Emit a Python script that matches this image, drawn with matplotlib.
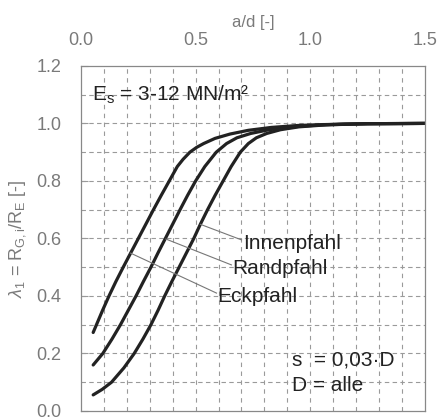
import matplotlib
matplotlib.use('Agg')
import matplotlib.pyplot as plt

# curves: a/d -> lambda_1
ECK_X = [0.053, 0.094, 0.122, 0.152, 0.184, 0.217, 0.25, 0.283, 0.316, 0.35, 0.385,
         0.42, 0.445, 0.475, 0.505, 0.535, 0.585, 0.65, 0.73, 0.83, 0.95, 1.15, 1.5]
ECK_Y = [0.273, 0.35, 0.40, 0.45, 0.50, 0.55, 0.60, 0.65, 0.70, 0.75, 0.80,
         0.85, 0.875, 0.90, 0.917, 0.93, 0.948, 0.963, 0.976, 0.986, 0.993, 0.998, 1.0]

RAND_X = [0.053, 0.095, 0.135, 0.172, 0.206, 0.24, 0.272, 0.305, 0.336, 0.368, 0.40,
          0.432, 0.465, 0.50, 0.54, 0.59, 0.635, 0.68, 0.74, 0.82, 0.92, 1.05, 1.25, 1.5]
RAND_Y = [0.16, 0.20, 0.25, 0.30, 0.35, 0.40, 0.45, 0.50, 0.55, 0.60, 0.65,
          0.70, 0.75, 0.80, 0.85, 0.90, 0.93, 0.95, 0.965, 0.978, 0.988, 0.995, 0.999, 1.0]

INNEN_X = [0.053, 0.092, 0.133, 0.187, 0.232, 0.27, 0.305, 0.336, 0.365, 0.396, 0.428,
           0.46, 0.492, 0.521, 0.552, 0.585, 0.62, 0.655, 0.695, 0.73, 0.765, 0.81,
           0.87, 0.95, 1.07, 1.25, 1.5]
INNEN_Y = [0.056, 0.075, 0.10, 0.15, 0.20, 0.25, 0.30, 0.35, 0.40, 0.45, 0.50,
           0.55, 0.60, 0.65, 0.70, 0.75, 0.80, 0.85, 0.90, 0.93, 0.95, 0.965,
           0.978, 0.988, 0.995, 0.999, 1.0]

# label name, point on curve, label anchor
LABELS = [
    ('Innenpfahl', (0.521, 0.649), (0.70, 0.595)),
    ('Randpfahl', (0.37, 0.598), (0.656, 0.508)),
    ('Eckpfahl', (0.216, 0.549), (0.591, 0.41)),
]

X_TICKS = [0.0, 0.5, 1.0, 1.5]
Y_TICKS = [0.0, 0.2, 0.4, 0.6, 0.8, 1.0, 1.2]

plt.rcParams['font.family'] = ['Liberation Sans', 'DejaVu Sans']
plt.rcParams['mathtext.fontset'] = 'custom'
plt.rcParams['mathtext.rm'] = 'Liberation Sans'
plt.rcParams['mathtext.it'] = 'Liberation Sans:italic'

TICK_COLOR = '#7a7a7a'
GRID_COLOR = '#9a9a9a'

fig = plt.figure(figsize=(4.38, 4.17), dpi=100)
ax = fig.add_axes([0.185, 0.0144, 0.785, 0.8276])

ax.set_xlim(0, 1.5)
ax.set_ylim(0, 1.2)

for i in range(1, 15):
    ax.axvline(i * 0.1, color=GRID_COLOR, lw=0.8, ls=(0, (4, 4)), zorder=0)
for i in range(1, 12):
    ax.axhline(i * 0.1, color=GRID_COLOR, lw=0.8, ls=(0, (4, 3)), zorder=0)

ax.plot(ECK_X, ECK_Y, color='#222222', lw=2.3, solid_capstyle='round')
ax.plot(RAND_X, RAND_Y, color='#222222', lw=2.3, solid_capstyle='round')
ax.plot(INNEN_X, INNEN_Y, color='#222222', lw=2.3, solid_capstyle='round')

for name, p0, p1 in LABELS:
    ax.plot([p0[0], p1[0]], [p0[1], p1[1]], color='#777777', lw=0.8)
    ax.text(p1[0] + 0.005, p1[1] - 0.012, name, fontsize=15, color='#222222',
            ha='left', va='center')

ax.text(0.05, 1.1, r'E$_\mathrm{s}$ = 3-12 MN/m²', fontsize=15, color='#222222',
        ha='left', va='center')
ax.text(0.92, 0.178, 's  = 0,03·D', fontsize=15, color='#222222', ha='left', va='center')
ax.text(0.92, 0.087, 'D = alle', fontsize=15, color='#222222', ha='left', va='center')

ax.xaxis.tick_top()
ax.xaxis.set_label_position('top')
ax.set_xticks(X_TICKS)
ax.set_xticklabels(['%.1f' % v for v in X_TICKS])
ax.set_yticks(Y_TICKS)
ax.set_yticklabels(['%.1f' % v for v in Y_TICKS])
ax.tick_params(axis='x', length=0, pad=12, labelsize=13, labelcolor=TICK_COLOR)
ax.tick_params(axis='y', direction='in', length=5, color=GRID_COLOR, pad=14,
               labelsize=13, labelcolor=TICK_COLOR)
ax.set_xlabel('a/d [-]', fontsize=12, color=TICK_COLOR, labelpad=4)
ax.set_ylabel(r'$\lambda_1$ = R$_\mathrm{G,i}$/R$_\mathrm{E}$ [-]', fontsize=13,
              color=TICK_COLOR, labelpad=6)

for s in ax.spines.values():
    s.set_color('#888888')
    s.set_linewidth(0.9)

plt.savefig('out.png', dpi=100)
